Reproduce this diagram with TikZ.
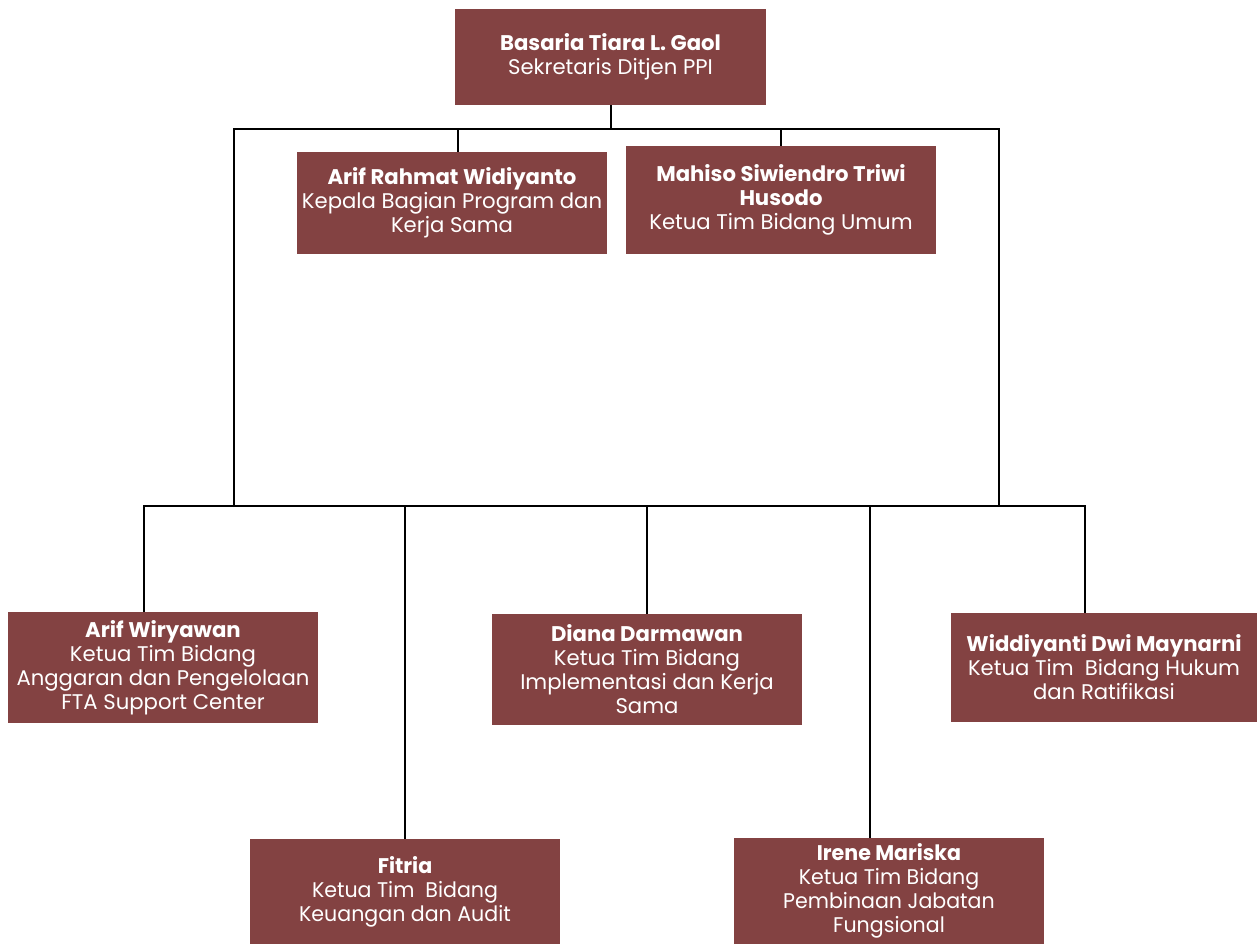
\documentclass[tikz,border=0pt]{standalone}
\usepackage{fontspec}
\setmainfont{Poppins}
\newfontfamily\condfont{Poppins}[FakeStretch=0.97]
\definecolor{boxred}{HTML}{834242}
\begin{document}
\begin{tikzpicture}[x=1pt,y=-1pt,
  box/.style={fill=boxred,text=white,align=center,inner sep=0pt,
    font=\fontsize{21.2}{24}\selectfont},
  link/.style={line width=2pt,black}]
\useasboundingbox (0,0) rectangle (1257,944);
% boxes
\node[box,minimum width=311,minimum height=96] (top) at (610.5,57) {\textbf{Basaria Tiara L. Gaol}\\Sekretaris Ditjen PPI};
\node[box,minimum width=310,minimum height=102] (arifr) at (452,203) {\textbf{Arif Rahmat Widiyanto}\\Kepala Bagian Program dan\\Kerja Sama};
\node[box,minimum width=310,minimum height=108] (mahiso) at (781,200) {\textbf{Mahiso Siwiendro Triwi}\\\textbf{Husodo}\\Ketua Tim Bidang Umum};
\node[box,minimum width=310,minimum height=111] (arifw) at (163,667.5) {\textbf{Arif Wiryawan}\\Ketua Tim Bidang\\Anggaran dan Pengelolaan\\FTA Support Center};
\node[box,minimum width=310,minimum height=111] (diana) at (647,669.5) {\textbf{Diana Darmawan}\\Ketua Tim Bidang\\Implementasi dan Kerja\\Sama};
\node[box,minimum width=306,minimum height=109] (widd) at (1104,667.5) {\textbf{Widdiyanti Dwi Maynarni}\\Ketua Tim~~Bidang Hukum\\dan Ratifikasi};
\node[box,minimum width=310,minimum height=105,font=\condfont\fontsize{21.2}{24}\selectfont] (fitria) at (405,891.5) {\textbf{Fitria}\\Ketua Tim~~Bidang\\Keuangan dan Audit};
\node[box,minimum width=310,minimum height=106,font=\condfont\fontsize{21.2}{24}\selectfont] (irene) at (889,891) {\textbf{Irene Mariska}\\Ketua Tim Bidang\\Pembinaan Jabatan\\Fungsional};
% junctions
\coordinate (tl) at (234,129);
\coordinate (tr) at (999,129);
\coordinate (bl) at (144,506);
\coordinate (br) at (1085,506);
\coordinate (jl) at (234,507);
\coordinate (jr) at (999,507);
% connectors
\draw[link] (top.south) -- (top.south |- tl);
\draw[link] (jl) -- (tl) -- (tr) -- (jr);
\draw[link] (arifr.north -| 458,0) -- (458,129);
\draw[link] (mahiso.north) -- (mahiso.north |- tl);
\draw[link] (arifw.north -| bl) -- (bl) -- (br) -- (widd.north -| br);
\draw[link] (fitria.north) -- (405,506);
\draw[link] (diana.north) -- (diana.north |- bl);
\draw[link] (irene.north -| 870,0) -- (870,506);
\end{tikzpicture}
\end{document}
